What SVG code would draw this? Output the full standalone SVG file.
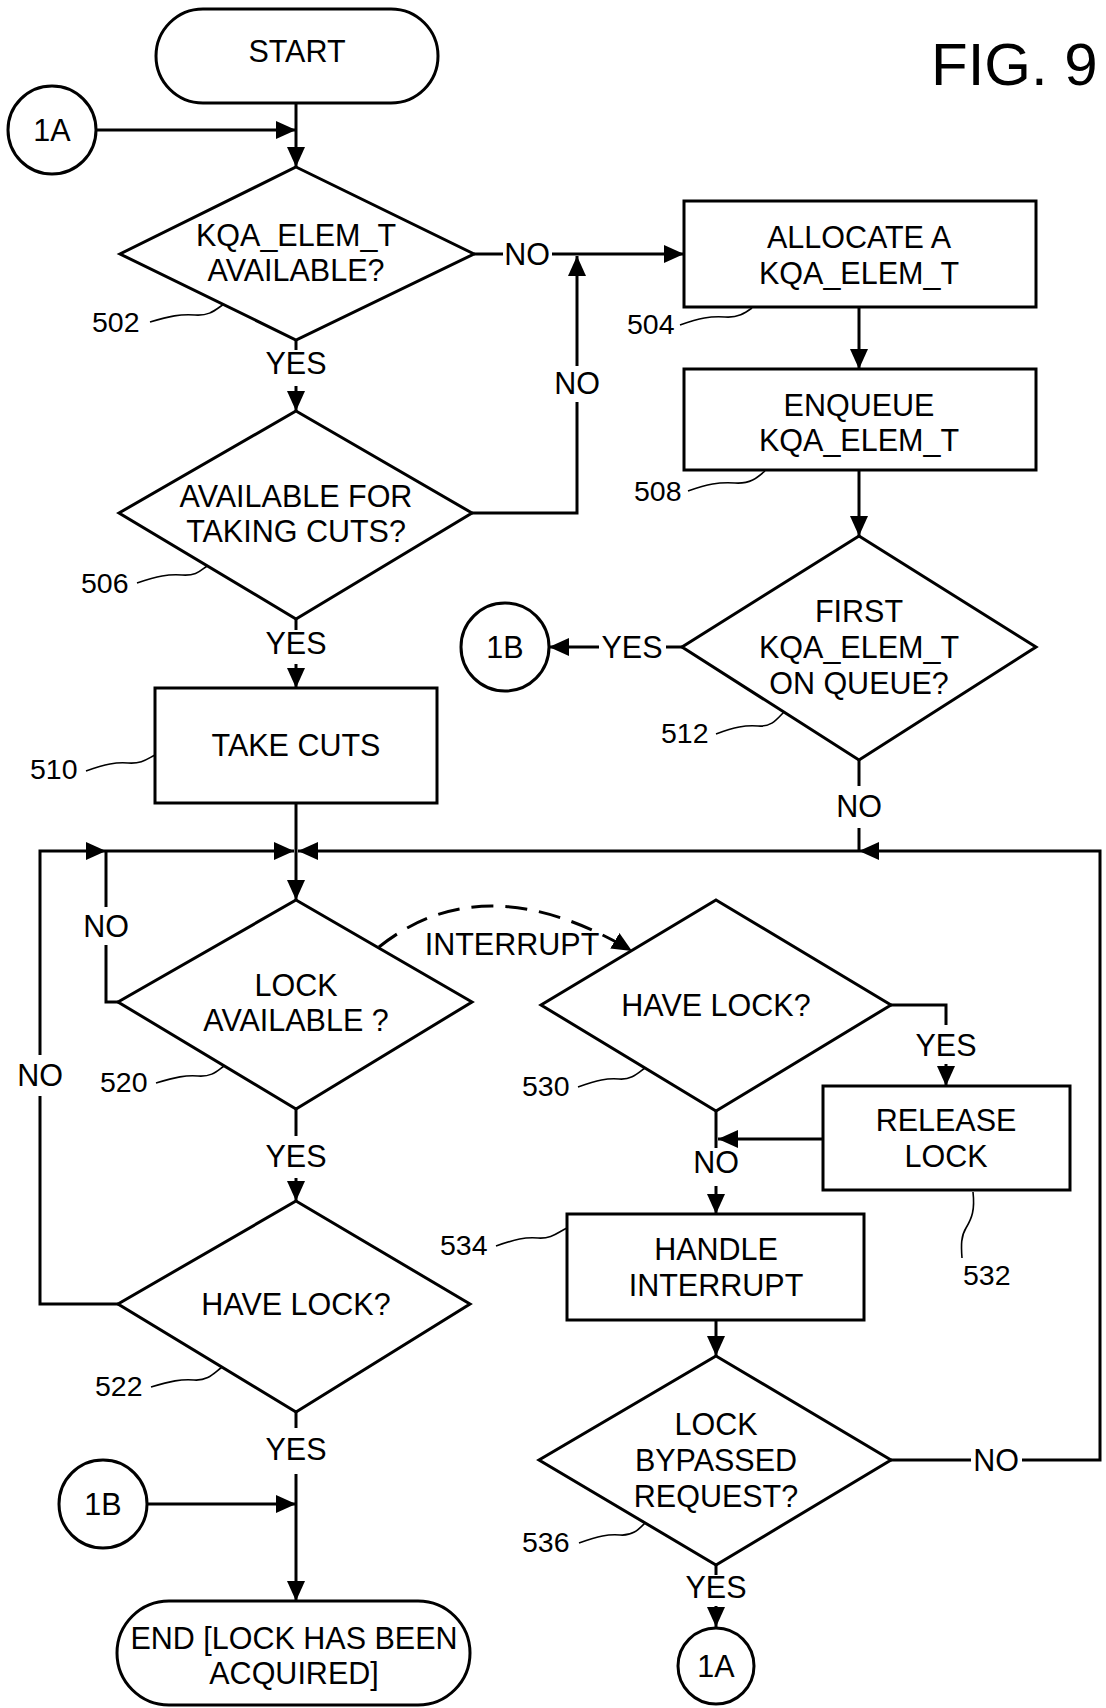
<svg xmlns="http://www.w3.org/2000/svg" width="1106" height="1708" viewBox="0 0 1106 1708">
<defs>
<style>
.s{fill:#fff;stroke:#000;stroke-width:3}
.c{fill:none;stroke:#000;stroke-width:3}
.d{fill:none;stroke:#000;stroke-width:3;stroke-dasharray:22 12}
.l{fill:none;stroke:#000;stroke-width:1.6}
text{font-family:"Liberation Sans",Arial,sans-serif;font-size:30.5px;fill:#000}
.m{text-anchor:middle}
.n{font-size:28.5px}
.f{font-size:60px}
</style>
<marker id="a" markerUnits="userSpaceOnUse" markerWidth="20" markerHeight="18" viewBox="0 0 20 18" refX="20" refY="9" orient="auto">
<path d="M0,0 L20,9 L0,18 z" fill="#000"/>
</marker>
</defs>
<rect width="1106" height="1708" fill="#fff"/>
<text class="f" x="931" y="85">FIG. 9</text>

<g id="connectors">
<path class="c" d="M296,103 V167" marker-end="url(#a)"/>
<path class="c" d="M96,130 H296" marker-end="url(#a)"/>
<path class="c" d="M296,340 V350"/>
<path class="c" d="M296,386 V411" marker-end="url(#a)"/>
<path class="c" d="M474,254 H503"/>
<path class="c" d="M552,254 H684" marker-end="url(#a)"/>
<path class="c" d="M472,513 H577 V402"/>
<path class="c" d="M577,366 V256" marker-end="url(#a)"/>
<path class="c" d="M859,307 V369" marker-end="url(#a)"/>
<path class="c" d="M859,470 V536" marker-end="url(#a)"/>
<path class="c" d="M682,647 H666"/>
<path class="c" d="M599,647 H549" marker-end="url(#a)"/>
<path class="c" d="M296,619 V630"/>
<path class="c" d="M296,664 V688" marker-end="url(#a)"/>
<path class="c" d="M859,760 V786"/>
<path class="c" d="M859,828 V851"/>
<path class="c" d="M891,1460 H971"/>
<path class="c" d="M1022,1460 H1100 V851 H859" marker-end="url(#a)"/>
<path class="c" d="M859,851 H298" marker-end="url(#a)"/>
<path class="c" d="M296,803 V900" marker-end="url(#a)"/>
<path class="c" d="M118,1304 H40 V1096"/>
<path class="c" d="M40,1055 V851 H106" marker-end="url(#a)"/>
<path class="c" d="M106,851 H294" marker-end="url(#a)"/>
<path class="c" d="M118,1002 H106 V945"/>
<path class="c" d="M106,907 V851"/>
<path class="c" d="M296,1109 V1136"/>
<path class="c" d="M296,1178 V1201" marker-end="url(#a)"/>
<path class="c" d="M296,1412 V1428"/>
<path class="c" d="M296,1474 V1601" marker-end="url(#a)"/>
<path class="c" d="M147,1504 H296" marker-end="url(#a)"/>
<path class="d" d="M379,947 Q484,863 632,951" marker-end="url(#a)"/>
<path class="c" d="M891,1005 H946 V1025"/>
<path class="c" d="M946,1064 V1086" marker-end="url(#a)"/>
<path class="c" d="M716,1111 V1148"/>
<path class="c" d="M823,1139 H718" marker-end="url(#a)"/>
<path class="c" d="M716,1186 V1214" marker-end="url(#a)"/>
<path class="c" d="M716,1320 V1356" marker-end="url(#a)"/>
<path class="c" d="M716,1565 V1575"/>
<path class="c" d="M716,1606 V1627" marker-end="url(#a)"/>
<text class="m" x="527" y="265">NO</text>
<text class="m" x="577" y="394">NO</text>
<text class="m" x="296" y="374">YES</text>
<text class="m" x="296" y="654">YES</text>
<text class="m" x="632" y="658">YES</text>
<text class="m" x="859" y="817">NO</text>
<text class="m" x="106" y="937">NO</text>
<text class="m" x="40" y="1086">NO</text>
<text class="m" x="512" y="955">INTERRUPT</text>
<text class="m" x="296" y="1167">YES</text>
<text class="m" x="296" y="1460">YES</text>
<text class="m" x="946" y="1056">YES</text>
<text class="m" x="716" y="1173">NO</text>
<text class="m" x="996" y="1471">NO</text>
<text class="m" x="716" y="1598">YES</text>
</g>

<g id="start">
<rect class="s" x="156" y="9" width="282" height="94" rx="47"/>
<text class="m" x="297" y="62">START</text>
</g>
<g id="c1a-top">
<circle class="s" cx="52" cy="130" r="44"/>
<text class="m" x="52" y="141">1A</text>
</g>
<g id="n502">
<polygon class="s" points="296,167 474,254 296,340 120,254"/>
<text class="m" x="296" y="246">KQA_ELEM_T</text>
<text class="m" x="296" y="281">AVAILABLE?</text>
<text class="n" x="92" y="332">502</text>
<path class="l" d="M150,322 C170,316 180,314 195,315 C210,316 215,310 224,304"/>
</g>
<g id="n504">
<rect class="s" x="684" y="201" width="352" height="106"/>
<text class="m" x="859" y="248">ALLOCATE A</text>
<text class="m" x="859" y="284">KQA_ELEM_T</text>
<text class="n" x="627" y="334">504</text>
<path class="l" d="M680,325 C700,318 710,316 725,317 C738,318 745,313 752,308"/>
</g>
<g id="n508">
<rect class="s" x="684" y="369" width="352" height="101"/>
<text class="m" x="859" y="416">ENQUEUE</text>
<text class="m" x="859" y="451">KQA_ELEM_T</text>
<text class="n" x="634" y="501">508</text>
<path class="l" d="M688,491 C708,484 718,482 735,483 C750,484 757,478 765,471"/>
</g>
<g id="n506">
<polygon class="s" points="296,411 472,513 296,619 119,513"/>
<text class="m" x="296" y="507">AVAILABLE FOR</text>
<text class="m" x="296" y="542">TAKING CUTS?</text>
<text class="n" x="81" y="593">506</text>
<path class="l" d="M137,583 C158,576 168,574 182,575 C196,576 200,571 207,566"/>
</g>
<g id="n512">
<polygon class="s" points="859,536 1036,647 859,760 682,647"/>
<text class="m" x="859" y="622">FIRST</text>
<text class="m" x="859" y="658">KQA_ELEM_T</text>
<text class="m" x="859" y="694">ON QUEUE?</text>
<text class="n" x="661" y="743">512</text>
<path class="l" d="M716,734 C735,727 745,725 758,726 C772,727 777,719 784,712"/>
</g>
<g id="c1b-right">
<circle class="s" cx="505" cy="647" r="44"/>
<text class="m" x="505" y="658">1B</text>
</g>
<g id="n510">
<rect class="s" x="155" y="688" width="282" height="115"/>
<text class="m" x="296" y="756">TAKE CUTS</text>
<text class="n" x="30" y="779">510</text>
<path class="l" d="M86,771 C106,764 116,762 128,763 C142,764 147,759 155,755"/>
</g>
<g id="n520">
<polygon class="s" points="296,900 472,1002 296,1109 118,1002"/>
<text class="m" x="296" y="996">LOCK</text>
<text class="m" x="296" y="1031">AVAILABLE ?</text>
<text class="n" x="100" y="1092">520</text>
<path class="l" d="M156,1083 C176,1077 186,1075 198,1076 C212,1077 217,1071 224,1066"/>
</g>
<g id="n530">
<polygon class="s" points="716,900 891,1005 716,1111 541,1005"/>
<text class="m" x="716" y="1016">HAVE LOCK?</text>
<text class="n" x="522" y="1096">530</text>
<path class="l" d="M578,1087 C598,1080 607,1078 619,1079 C632,1080 638,1073 645,1068"/>
</g>
<g id="n532">
<rect class="s" x="823" y="1086" width="247" height="104"/>
<text class="m" x="946" y="1131">RELEASE</text>
<text class="m" x="946" y="1167">LOCK</text>
<text class="n" x="963" y="1285">532</text>
<path class="l" d="M973,1192 C975,1210 972,1218 966,1228 C961,1236 961,1245 962,1258"/>
</g>
<g id="n534">
<rect class="s" x="567" y="1214" width="297" height="106"/>
<text class="m" x="716" y="1260">HANDLE</text>
<text class="m" x="716" y="1296">INTERRUPT</text>
<text class="n" x="440" y="1255">534</text>
<path class="l" d="M496,1246 C516,1239 525,1237 538,1238 C552,1239 558,1232 567,1228"/>
</g>
<g id="n522">
<polygon class="s" points="296,1201 470,1304 296,1412 118,1304"/>
<text class="m" x="296" y="1315">HAVE LOCK?</text>
<text class="n" x="95" y="1396">522</text>
<path class="l" d="M151,1387 C171,1381 181,1379 194,1380 C208,1381 214,1373 222,1367"/>
</g>
<g id="n536">
<polygon class="s" points="716,1356 891,1460 716,1565 539,1460"/>
<text class="m" x="716" y="1435">LOCK</text>
<text class="m" x="716" y="1471">BYPASSED</text>
<text class="m" x="716" y="1507">REQUEST?</text>
<text class="n" x="522" y="1552">536</text>
<path class="l" d="M579,1543 C599,1536 608,1534 620,1535 C633,1536 639,1529 645,1523"/>
</g>
<g id="c1b-left">
<circle class="s" cx="103" cy="1504" r="44"/>
<text class="m" x="103" y="1515">1B</text>
</g>
<g id="end">
<rect class="s" x="117" y="1601" width="353" height="104" rx="52"/>
<text class="m" x="294" y="1649">END [LOCK HAS BEEN</text>
<text class="m" x="294" y="1684">ACQUIRED]</text>
</g>
<g id="c1a-bottom">
<circle class="s" cx="716" cy="1666" r="38"/>
<text class="m" x="716" y="1677">1A</text>
</g>
</svg>
